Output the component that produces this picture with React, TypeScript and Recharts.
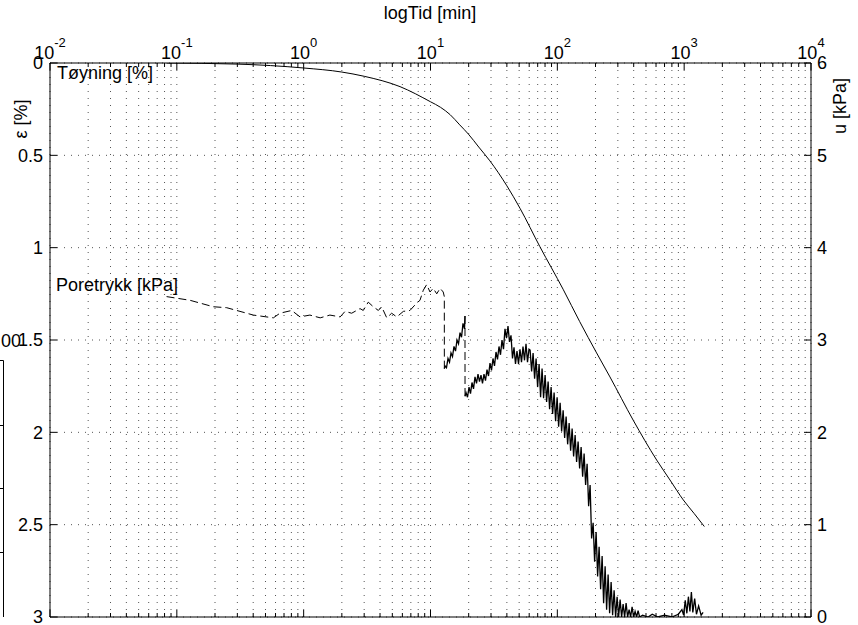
import React from 'react';
import { LineChart, Line, XAxis, YAxis, CartesianGrid } from 'recharts';

// time axis (minutes, log scale)
const decadeTicks = [0.01, 0.1, 1, 10, 100, 1000, 10000];
const minorSteps = [2, 3, 4, 5, 6, 7, 8, 9];
const strainTicks = [0, 0.5, 1, 1.5, 2, 2.5, 3];
const poreTicks = [0, 1, 2, 3, 4, 5, 6];

// Tøyning [%] vs time [min]
const strainPoints: [number, number][] = [
  [0.083, 0.0], [0.3, 0.006], [1, 0.027], [2, 0.049], [3, 0.072], [5.75, 0.128],
  [10, 0.21], [12, 0.24], [14.3, 0.28], [17, 0.335], [19.9, 0.385], [24, 0.455],
  [29.4, 0.53], [40, 0.665], [50.8, 0.787], [72.9, 0.995], [111, 1.225], [150, 1.4],
  [204, 1.57], [260, 1.7], [397, 1.935], [607, 2.15], [773, 2.258], [984, 2.366],
  [1200, 2.44], [1442, 2.51],
];

// Poretrykk [kPa] vs time [min] - slow early part (dashed)
const poreEarly: [number, number][] = [
  [0.083, 3.47], [0.127, 3.43], [0.194, 3.36], [0.247, 3.35], [0.401, 3.27], [0.577, 3.24],
  [0.65, 3.29], [0.805, 3.32], [0.936, 3.25], [1.12, 3.27], [1.35, 3.24], [1.61, 3.27],
  [1.94, 3.25], [2.12, 3.31], [2.39, 3.29], [2.78, 3.34], [2.95, 3.32], [3.23, 3.41],
  [3.54, 3.36], [3.88, 3.32], [4.12, 3.36], [4.52, 3.24], [4.94, 3.29], [5.42, 3.25],
  [6.11, 3.31], [6.89, 3.32], [7.78, 3.4], [8.26, 3.43], [8.78, 3.54], [9.33, 3.6],
  [9.91, 3.52], [10.5, 3.56], [11.2, 3.5], [11.9, 3.56], [12.6, 3.52], [12.85, 3.47],
  [12.86, 2.69],
];

// first load step rise (noisy)
const poreRise1: [number, number][] = [
  [12.86, 2.69], [13.02, 2.72], [13.37, 2.7], [13.74, 2.8], [14.12, 2.76], [14.51, 2.86],
  [14.91, 2.82], [15.32, 2.93], [15.75, 2.88], [16.18, 3.0], [16.63, 2.96], [17.09, 3.08],
  [17.56, 3.03], [18.04, 3.18], [18.54, 3.12], [18.7, 3.26],
];

const poreDrop: [number, number][] = [[18.7, 3.26], [18.72, 2.39]];

// second rise, peak and dissipation (noisy band)
const poreRise2: [number, number][] = [
  [18.72, 2.39], [19.05, 2.43], [19.58, 2.38], [20.12, 2.49], [20.67, 2.42], [21.24, 2.54],
  [21.83, 2.47], [22.43, 2.6], [23.05, 2.53], [23.69, 2.63], [24.34, 2.55], [25.01, 2.62],
  [25.7, 2.53], [26.41, 2.63], [27.14, 2.56], [27.89, 2.68], [28.66, 2.61], [29.45, 2.75],
  [30.27, 2.67], [31.1, 2.8], [31.96, 2.72], [32.84, 2.87], [33.75, 2.79], [34.68, 2.93],
  [35.64, 2.84], [36.62, 3.0], [37.63, 2.9], [38.67, 3.12], [39.74, 3.02], [40.84, 3.15],
  [41.96, 2.98], [43.12, 3.05], [44.31, 2.8], [45.54, 2.92], [46.79, 2.74], [48.08, 2.88],
  [49.41, 2.74], [50.77, 2.9], [52.18, 2.76], [53.62, 2.93], [55.1, 2.78], [56.62, 2.96],
  [58.18, 2.76], [59.79, 2.9],
];

const poreDecay: [number, number][] = [
  [61, 2.89], [62.7, 2.66], [64.4, 2.86], [66.2, 2.58], [68.0, 2.8], [69.9, 2.49],
  [71.8, 2.74], [73.8, 2.38], [75.8, 2.69], [77.9, 2.37], [80.1, 2.62], [82.3, 2.33],
  [84.6, 2.55], [86.9, 2.25], [89.3, 2.49], [91.8, 2.2], [94.3, 2.43], [96.9, 2.12],
  [99.6, 2.38], [102.4, 2.06], [105.2, 2.32], [108.1, 2.01], [111.1, 2.24], [114.2, 1.94],
  [117.3, 2.17], [120.6, 1.87], [123.9, 2.1], [127.3, 1.8], [130.8, 2.04], [134.4, 1.74],
  [138.1, 1.97], [141.9, 1.68], [145.8, 1.9], [149.9, 1.61], [154.0, 1.84], [158.3, 1.52],
  [162.6, 1.77], [167.1, 1.43], [171.7, 1.66], [176.5, 1.2], [181.3, 1.43], [186.3, 0.85],
  [191.5, 1.02], [196.8, 0.6], [202.2, 0.92], [207.8, 0.44], [213.5, 0.76], [219.4, 0.3],
  [225.5, 0.66], [231.7, 0.15], [238.1, 0.55], [244.7, 0.08], [251.4, 0.46], [258.4, 0.04],
  [265.5, 0.38], [272.8, 0.02], [280.3, 0.29], [288.1, 0.0], [296.0, 0.22], [304.2, 0.0],
  [312.6, 0.19], [321.2, 0.0], [330.1, 0.14], [339.2, 0.0], [348.5, 0.15], [358.2, 0.0],
  [368.0, 0.08], [378.2, 0.0], [388.6, 0.11], [399.3, 0.0], [410.3, 0.06], [421.7, 0.0],
  [433.3, 0.07], [445.2, 0.0],
];

const poreTail: [number, number][] = [
  [470, 0.02], [520, 0.0], [560, 0.03], [620, 0.0], [700, 0.02], [800, 0.0], [900, 0.03],
  [960, 0.08], [990, 0.02], [1020, 0.18], [1050, 0.04], [1080, 0.22], [1110, 0.06],
  [1140, 0.27], [1170, 0.05], [1210, 0.2], [1250, 0.03], [1300, 0.12], [1360, 0.02],
  [1410, 0.05],
];

const toStrain = (pts: [number, number][]) => pts.map(([t, eps]) => ({ t, eps }));
const toPore = (pts: [number, number][]) => pts.map(([t, u]) => ({ t, u }));

const strainData = toStrain(strainPoints);
const poreDashed = toPore(poreEarly);
const poreStep1 = toPore(poreRise1);
const poreStepDrop = toPore(poreDrop);
const poreNoisy = toPore([...poreRise2, ...poreDecay, ...poreTail]);

const timeTicks = decadeTicks.flatMap((d, i) =>
  i < decadeTicks.length - 1 ? [d, ...minorSteps.map((m) => d * m)] : [d]
);

const FONT = '"Liberation Sans", Arial, Helvetica, sans-serif';

const isDecade = (v: number) => Math.abs(Math.log10(v) - Math.round(Math.log10(v))) < 1e-6;

const TopTick = (props: any) => {
  const { x, y, payload } = props;
  const major = isDecade(payload.value);
  return (
    <g>
      <line x1={x} y1={y} x2={x} y2={y + (major ? 7 : 4)} stroke="#000" />
      {major && (
        <text x={x} y={y - 4} textAnchor="middle" fontSize={18} fill="#000" fontFamily={FONT}>
          <tspan>10</tspan>
          <tspan dy={-12} fontSize={13}>{Math.round(Math.log10(payload.value))}</tspan>
        </text>
      )}
    </g>
  );
};

const BottomTick = (props: any) => {
  const { x, y, payload } = props;
  const major = isDecade(payload.value);
  return <line x1={x} y1={y} x2={x} y2={y - (major ? 7 : 4)} stroke="#000" />;
};

const LeftTick = (props: any) => {
  const { x, y, payload } = props;
  return (
    <g>
      <line x1={x} y1={y} x2={x + 7} y2={y} stroke="#000" />
      <text x={x - 7} y={y} dy="0.35em" textAnchor="end" fontSize={18} fill="#000" fontFamily={FONT}>
        {String(payload.value)}
      </text>
    </g>
  );
};

const RightTick = (props: any) => {
  const { x, y, payload } = props;
  return (
    <g>
      <line x1={x} y1={y} x2={x - 7} y2={y} stroke="#000" />
      <text x={x + 6} y={y} dy="0.35em" textAnchor="start" fontSize={18} fill="#000" fontFamily={FONT}>
        {String(payload.value)}
      </text>
    </g>
  );
};

export default function App() {
  return (
    <div style={{ position: 'absolute', left: 0, top: 0, width: 858, height: 625, background: '#fff', fontFamily: FONT }}>
      <LineChart width={858} height={625} margin={{ top: 0, right: 0, bottom: 0, left: 0 }}>
        <CartesianGrid xAxisId="top" yAxisId="eps" stroke="#555" strokeDasharray="1 6" />
        <XAxis
          xAxisId="top" orientation="top" dataKey="t" type="number" scale="log"
          domain={[0.01, 10000]} ticks={timeTicks} interval={0} height={63}
          tickSize={0} tickMargin={0} tickLine={false} axisLine={{ stroke: '#000' }}
          tick={(p: any) => <TopTick {...p} />} allowDataOverflow
        />
        <XAxis
          xAxisId="bottom" orientation="bottom" dataKey="t" type="number" scale="log"
          domain={[0.01, 10000]} ticks={timeTicks} interval={0} height={8}
          tickSize={0} tickMargin={0} tickLine={false} axisLine={{ stroke: '#000' }}
          tick={(p: any) => <BottomTick {...p} />} allowDataOverflow
        />
        <YAxis
          yAxisId="eps" orientation="left" type="number" domain={[0, 3]} reversed
          ticks={strainTicks} interval={0} width={50} tickSize={0} tickMargin={0}
          tickLine={false} axisLine={{ stroke: '#000' }} tick={(p: any) => <LeftTick {...p} />}
          allowDataOverflow
        />
        <YAxis
          yAxisId="u" orientation="right" type="number" domain={[0, 6]}
          ticks={poreTicks} interval={0} width={47} tickSize={0} tickMargin={0}
          tickLine={false} axisLine={{ stroke: '#000' }} tick={(p: any) => <RightTick {...p} />}
          allowDataOverflow
        />
        <Line
          data={strainData} dataKey="eps" xAxisId="top" yAxisId="eps" type="monotone"
          stroke="#000" strokeWidth={1} dot={false} isAnimationActive={false}
        />
        <Line
          data={poreDashed} dataKey="u" xAxisId="top" yAxisId="u" type="linear"
          stroke="#000" strokeWidth={1} strokeDasharray="8 4" dot={false} isAnimationActive={false}
        />
        <Line
          data={poreStep1} dataKey="u" xAxisId="top" yAxisId="u" type="linear"
          stroke="#000" strokeWidth={1.3} dot={false} isAnimationActive={false}
        />
        <Line
          data={poreStepDrop} dataKey="u" xAxisId="top" yAxisId="u" type="linear"
          stroke="#000" strokeWidth={1} strokeDasharray="8 4" dot={false} isAnimationActive={false}
        />
        <Line
          data={poreNoisy} dataKey="u" xAxisId="top" yAxisId="u" type="linear"
          stroke="#000" strokeWidth={1.3} dot={false} isAnimationActive={false}
        />
      </LineChart>
      <svg width={858} height={625} style={{ position: 'absolute', left: 0, top: 0, pointerEvents: 'none' }}>
        <g fontFamily={FONT} fontSize={18} fill="#000">
          <text x={430} y={19} textAnchor="middle">logTid [min]</text>
          <text transform="translate(27,119) rotate(-90)" textAnchor="middle">ε [%]</text>
          <text transform="translate(846,106) rotate(-90)" textAnchor="middle">u [kPa]</text>
          <text x={57} y={79}>Tøyning [%]</text>
          <text x={56} y={291}>Poretrykk [kPa]</text>
          <text x={21} y={347} textAnchor="end">00</text>
        </g>
        {/* edge of the neighbouring subplot */}
        <path d="M0 360.5 H3.5 V617 M0 425.5 H3.5 M0 488.5 H3.5 M0 552.5 H3.5" stroke="#000" fill="none" />
      </svg>
    </div>
  );
}
